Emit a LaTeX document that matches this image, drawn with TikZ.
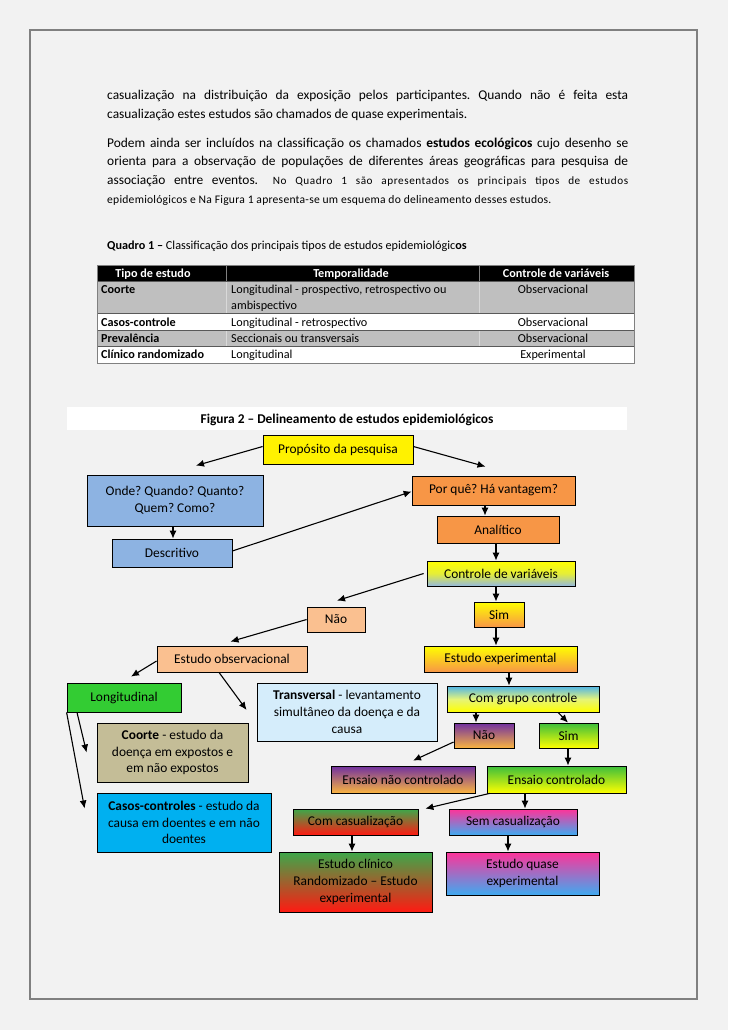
\documentclass[tikz,border=0pt]{standalone}
\usepackage{fontspec}
\setmainfont{Carlito}
\usetikzlibrary{arrows.meta}
\definecolor{pagebg}{HTML}{F2F2F2}
\definecolor{framegray}{HTML}{808080}
\definecolor{rowgrey}{HTML}{BFBFBF}
\definecolor{rowline}{HTML}{595959}
\definecolor{boxblue}{HTML}{8DB3E2}
\definecolor{boxorange}{HTML}{F79646}
\definecolor{lightorange}{HTML}{FAC090}
\definecolor{boxgreen}{HTML}{33CC33}
\definecolor{transvblue}{HTML}{D5EDFB}
\definecolor{tan}{HTML}{C4BD97}
\definecolor{cyanbox}{HTML}{00B0F0}
\definecolor{purpletop}{HTML}{7030A0}
\definecolor{orangebot}{HTML}{FAB440}
\definecolor{greentop}{HTML}{3CBE3C}
\definecolor{yellowbot}{HTML}{FFFF00}
\definecolor{skytop}{HTML}{4FB4E8}
\definecolor{paleyellow}{HTML}{FFFF66}
\definecolor{ctrlblue}{HTML}{95B9E0}
\definecolor{darkgreentop}{HTML}{3DA84A}
\definecolor{redbot}{HTML}{FF1A12}
\definecolor{pinktop}{HTML}{FF3399}
\definecolor{bluebot}{HTML}{3FAAF0}
\frenchspacing
\tikzset{
  box/.style={draw=black, line width=0.8pt, inner sep=0pt, align=center,
    font=\fontsize{13.4}{16.8}\selectfont},
  sz/.style 2 args={minimum width=#1pt, minimum height=#2pt},
  arr/.style={-{Latex[length=8pt,width=7pt]}, line width=1.1pt},
  body/.style={anchor=base west, inner sep=0pt, font=\fontsize{13.4}{18}\selectfont},
  tab/.style={anchor=base west, inner sep=0pt, font=\fontsize{12.2}{14}\selectfont},
  tabc/.style={anchor=base, inner sep=0pt, font=\fontsize{12.2}{14}\selectfont},
  tabb/.style={anchor=base west, inner sep=0pt, font=\fontsize{12.2}{14}\selectfont\bfseries},
  tabh/.style={anchor=base, inner sep=0pt, text=white, font=\fontsize{12.2}{14}\selectfont\bfseries},
}
\begin{document}
\begin{tikzpicture}[x=1pt,y=-1pt]
\useasboundingbox (0,0) rectangle (728,1030);
\fill[pagebg] (0,0) rectangle (728,1030);
\draw[framegray, line width=2pt] (30,30) rectangle (697,999);

% ---------- body text ----------
\node[body] (l1) at (107,100) {\makebox[521pt][s]{casualização na distribuição da exposição pelos participantes. Quando não é feita esta}};
\node[body] (l2) at (107,118) {casualização estes estudos são chamados de quase experimentais.};
\node[body] (l3) at (107,147) {\makebox[521pt][s]{Podem ainda ser incluídos na classificação os chamados \textbf{estudos ecológicos} cujo desenho se}};
\node[body] (l4) at (107,165.5) {\makebox[521pt][s]{orienta para a observação de populações de diferentes áreas geográficas para pesquisa de}};
\node[body] (l5) at (107,184.5) {\makebox[521pt][s]{associação entre eventos.\hspace{6pt} {\fontsize{11.2}{14}\selectfont\addfontfeature{LetterSpace=5}No Quadro 1 são apresentados os principais tipos de estudos}}};
\node[body, font=\fontsize{11.6}{14}\selectfont\addfontfeature{LetterSpace=2}] (l6) at (107,203) {epidemiológicos e Na Figura 1 apresenta-se um esquema do delineamento desses estudos.};

% ---------- table ----------
\node[tab] (cap) at (107,249) {\textbf{Quadro 1 –} Classificação dos principais tipos de estudos epidemiológic\textbf{os}};
\fill[black] (97,265) rectangle (634,281);
\fill[rowgrey] (97,281) rectangle (634,313);
\fill[white] (97,313) rectangle (634,330);
\fill[rowgrey] (97,330) rectangle (634,346);
\fill[white] (97,346) rectangle (634,363);
\draw[white!85!black, line width=0.5pt] (226,281) -- (226,313) (479,281) -- (479,313) (226,330) -- (226,346) (479,330) -- (479,346);
\draw[gray, line width=0.4pt] (226,265) -- (226,281) (479,265) -- (479,281);
\draw[rowline, line width=0.7pt] (97,281) -- (634,281) (97,313) -- (634,313) (97,330) -- (634,330) (97,346) -- (634,346) (97,363) -- (634,363);
\draw[gray, line width=0.8pt] (97,265) rectangle (634,363);
\node[tabh] (h1) at (153,277) {Tipo de estudo};
\node[tabh] (h2) at (351,277) {Temporalidade};
\node[tabh] (h3) at (556,277) {Controle de variáveis};
\node[tabb] (r1a) at (101,293) {Coorte};
\node[tab] (r1b) at (231,293) {Longitudinal - prospectivo, retrospectivo ou};
\node[tab] (r1c) at (231,309) {ambispectivo};
\node[tabc] (r1d) at (553,293) {Observacional};
\node[tabb] (r2a) at (101,326) {Casos-controle};
\node[tab] (r2b) at (231,326) {Longitudinal - retrospectivo};
\node[tabc] (r2c) at (553,326) {Observacional};
\node[tabb] (r3a) at (101,342) {Prevalência};
\node[tab] (r3b) at (231,342) {Seccionais ou transversais};
\node[tabc] (r3c) at (553,342) {Observacional};
\node[tabb] (r4a) at (101,358) {Clínico randomizado};
\node[tab] (r4b) at (231,358) {Longitudinal};
\node[tabc] (r4c) at (553,358) {Experimental};

% ---------- figure title ----------
\fill[white] (67,407) rectangle (627,430);
\node[anchor=base, inner sep=0pt, font=\fontsize{13.4}{15}\selectfont\bfseries] (ftitle) at (347,423) {Figura 2 – Delineamento de estudos epidemiológicos};

% ---------- diagram nodes ----------
\node[box, sz={150}{29}, fill=yellow] (prop) at (338,449.5) {Propósito da pesquisa};
\node[box, sz={176}{51}, fill=boxblue] (onde) at (175,500.5) {Onde? Quando? Quanto?\\Quem? Como?};
\node[box, sz={120}{28}, fill=boxblue] (desc) at (172,553) {Descritivo};
\node[box, sz={163}{29}, fill=boxorange] (porque) at (493.5,490.5) {Por quê? Há vantagem?};
\node[box, sz={122}{27}, fill=boxorange] (analit) at (498,529.5) {Analítico};
\node[box, sz={148}{25}, top color=yellow, bottom color=ctrlblue, middle color=yellow!75!ctrlblue] (controle) at (501,573.5) {Controle de variáveis};
\node[box, sz={50}{25}, top color=yellow, bottom color=boxorange] (simA) at (499,614.5) {Sim};
\node[box, sz={58}{25}, fill=lightorange] (naoA) at (336,619.5) {Não};
\node[box, sz={150}{26}, fill=lightorange] (obs) at (232,659) {Estudo observacional};
\node[box, sz={153}{26}, top color=yellow, bottom color=boxorange] (exper) at (500.5,659) {Estudo experimental};
\node[box, sz={114}{29}, fill=boxgreen] (long) at (124,697.5) {Longitudinal};
\node[box, sz={180}{58}, fill=transvblue] (transv) at (347,712) {\textbf{Transversal} - levantamento\\simultâneo da doença e da\\causa};
\node[box, sz={152}{26}, top color=skytop, bottom color=yellowbot, middle color=paleyellow!85!skytop] (comgrupo) at (523,699) {Com grupo controle};
\node[box, sz={151}{59}, fill=tan] (coorte) at (172.5,752.5) {\textbf{Coorte} - estudo da\\doença em expostos e\\em não expostos};
\node[box, sz={60}{25}, top color=purpletop, bottom color=orangebot] (naoB) at (484,735.5) {Não};
\node[box, sz={59}{25}, top color=greentop, bottom color=yellowbot] (simB) at (568.5,735.5) {Sim};
\node[box, sz={144}{27}, top color=purpletop, bottom color=orangebot] (ensnc) at (403,779.5) {Ensaio não controlado};
\node[box, sz={139}{27}, top color=greentop, bottom color=yellowbot] (ensc) at (556.5,779.5) {Ensaio controlado};
\node[box, sz={174}{59}, fill=cyanbox] (casos) at (184,822.5) {\textbf{Casos-controles} - estudo da\\causa em doentes e em não\\doentes};
\node[box, sz={125}{26}, top color=darkgreentop, bottom color=redbot] (comcas) at (355.5,822) {Com casualização};
\node[box, sz={128}{26}, top color=pinktop, bottom color=bluebot] (semcas) at (513,822) {Sem casualização};
\node[box, sz={153}{60}, top color=darkgreentop, bottom color=redbot] (clinico) at (355.5,882) {Estudo clínico\\Randomizado – Estudo\\experimental};
\node[box, sz={153}{43}, top color=pinktop, bottom color=bluebot] (quase) at (522.5,873.5) {Estudo quase\\experimental};

% ---------- connectors ----------
\draw[arr] ([yshift=3pt]prop.west) -- ([xshift=21pt,yshift=9pt]onde.north);
\draw[arr] ([yshift=3pt]prop.east) -- ([xshift=-8pt,yshift=9pt]porque.north);
\draw[arr] ([xshift=-2pt]onde.south) -- ([xshift=1pt]desc.north);
\draw[arr] ([yshift=2pt]desc.east) -- ([yshift=-1pt]porque.west);
\draw[arr] ([xshift=-8.5pt]porque.south) -- ([xshift=-13pt]analit.north);
\draw[arr] ([xshift=-2pt]analit.south) -- ([xshift=-5pt]controle.north);
\draw[arr] ([xshift=-3pt]controle.west) -- ([xshift=1pt,yshift=6pt]naoA.north);
\draw[arr] ([xshift=-5pt]controle.south) -- ([xshift=-3pt]simA.north);
\draw[arr] (naoA.west) -- ([xshift=-1.5pt,yshift=4pt]obs.north);
\draw[arr] ([xshift=-3pt]simA.south) -- ([xshift=-4.5pt]exper.north);
\draw[arr] ([yshift=-2pt]obs.west) -- ([xshift=7pt,yshift=6pt]long.north);
\draw[arr] ([xshift=-13pt]obs.south) -- ([xshift=-10pt,yshift=2pt]transv.west);
\draw[arr] ([xshift=8.5pt]exper.south) -- ([xshift=-14pt]comgrupo.north);
\draw[arr] ([xshift=-47pt]comgrupo.south) -- ([xshift=-8pt]naoB.north);
\draw[arr] ([xshift=35pt]comgrupo.south) -- ([xshift=-0.5pt]simB.north);
\draw[arr] ([yshift=-6.5pt]naoB.west) -- ([xshift=10pt,yshift=5pt]ensnc.north);
\draw[arr] ([xshift=-0.5pt]simB.south) -- ([xshift=11.5pt]ensc.north);
\draw[arr] ([xshift=3pt]ensc.south west) -- ([xshift=7pt]comcas.north east);
\draw[arr] ([xshift=-31.5pt]ensc.south) -- ([xshift=12pt]semcas.north);
\draw[arr] ([xshift=-3.5pt]comcas.south) -- ([xshift=-3.5pt]clinico.north);
\draw[arr] ([xshift=-5pt]semcas.south) -- ([xshift=-14.5pt]quase.north);
\draw[arr] ([xshift=-47pt]long.south) -- ([xshift=-10pt]coorte.west);
\draw[arr] (long.south west) -- ([xshift=-12pt,yshift=14pt]casos.west);
\end{tikzpicture}
\end{document}
